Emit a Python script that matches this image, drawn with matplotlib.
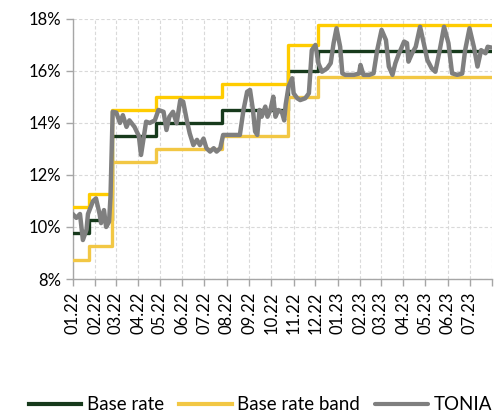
import numpy as np
import pandas as pd
import matplotlib
matplotlib.use('Agg')
from matplotlib import pyplot as plt
from matplotlib.ticker import FuncFormatter

plt.rcParams['font.family'] = ['Lato', 'DejaVu Sans']

# policy rate decisions (rate holds until the next date)
rate_dates = ['2022-01-01', '2022-01-24', '2022-02-24', '2022-04-25',
              '2022-07-25', '2022-10-24', '2022-12-05', '2023-07-31']
base_rate = [9.75, 10.25, 13.5, 14.0, 14.5, 16.0, 16.75, 16.75]
band_upper = [10.75, 11.25, 14.5, 15.0, 15.5, 17.0, 17.75, 17.75]
band_lower = [8.75, 9.25, 12.5, 13.0, 13.5, 15.0, 15.75, 15.75]

# overnight rate
tonia_dates = [
    '2022-01-01', '2022-01-06', '2022-01-11', '2022-01-15', '2022-01-20', '2022-01-22',
    '2022-01-29', '2022-02-02', '2022-02-07', '2022-02-09', '2022-02-13', '2022-02-16',
    '2022-02-20', '2022-02-22', '2022-02-25', '2022-03-02', '2022-03-07', '2022-03-11',
    '2022-03-16', '2022-03-20', '2022-03-27', '2022-04-02', '2022-04-05', '2022-04-09',
    '2022-04-12', '2022-04-17', '2022-04-24', '2022-04-29', '2022-05-06', '2022-05-10',
    '2022-05-14', '2022-05-19', '2022-05-24', '2022-05-29', '2022-06-02', '2022-06-07',
    '2022-06-11', '2022-06-16', '2022-06-21', '2022-06-25', '2022-06-30', '2022-07-04',
    '2022-07-09', '2022-07-14', '2022-07-18', '2022-07-23', '2022-07-27', '2022-08-19',
    '2022-08-24', '2022-08-29', '2022-09-02', '2022-09-06', '2022-09-09', '2022-09-12',
    '2022-09-15', '2022-09-18', '2022-09-23', '2022-09-26', '2022-09-30', '2022-10-04',
    '2022-10-07', '2022-10-11', '2022-10-16', '2022-10-19', '2022-10-21', '2022-10-25',
    '2022-10-30', '2022-11-01', '2022-11-06', '2022-11-10', '2022-11-17', '2022-11-22',
    '2022-11-26', '2022-12-01', '2022-12-05', '2022-12-10', '2022-12-17', '2022-12-22',
    '2022-12-26', '2022-12-30', '2023-01-04', '2023-01-07', '2023-01-11', '2023-01-23',
    '2023-01-30', '2023-02-01', '2023-02-05', '2023-02-13', '2023-02-19', '2023-02-24',
    '2023-03-02', '2023-03-08', '2023-03-12', '2023-03-17', '2023-03-21', '2023-03-26',
    '2023-03-28', '2023-04-02', '2023-04-06', '2023-04-08', '2023-04-13', '2023-04-18',
    '2023-04-24', '2023-04-29', '2023-05-04', '2023-05-10', '2023-05-15', '2023-05-21',
    '2023-05-27', '2023-06-02', '2023-06-07', '2023-06-14', '2023-06-21', '2023-06-25',
    '2023-07-01', '2023-07-07', '2023-07-12', '2023-07-17', '2023-07-23', '2023-07-26',
    '2023-07-31']
tonia = [
    10.5, 10.35, 10.5, 9.5, 9.9, 10.5,
    11.0, 11.1, 10.5, 10.15, 10.65, 10.0,
    10.2, 11.17, 14.43, 14.4, 14.0, 14.3,
    13.85, 14.1, 13.85, 13.5, 12.77, 13.5,
    14.05, 14.0, 14.1, 14.5, 14.43, 13.73,
    14.24, 14.43, 13.99, 14.88, 14.82, 14.1,
    13.6, 13.15, 13.35, 13.15, 13.4, 13.03,
    12.9, 13.03, 12.9, 13.03, 13.54, 13.54,
    14.5, 15.2, 15.27, 14.5, 13.67, 13.54,
    14.5, 14.24, 14.63, 14.24, 14.5, 15.01,
    14.24, 14.5, 14.4, 14.1, 14.7, 15.4,
    15.72, 15.14, 14.95, 14.88, 14.95, 15.14,
    16.8, 17.0, 16.3, 15.97, 16.1, 16.3,
    17.07, 17.64, 16.93, 15.91, 15.85, 15.85,
    15.9, 16.23, 15.85, 15.85, 15.91, 16.8,
    17.58, 17.19, 16.17, 15.85, 16.3, 16.68,
    16.8, 17.13, 17.07, 16.36, 16.68, 16.93,
    17.7, 17.07, 16.42, 16.1, 15.97, 16.8,
    17.7, 17.07, 15.91, 15.85, 15.9, 16.8,
    17.64, 16.93, 16.17, 16.8, 16.68, 16.93,
    16.9]

month_ticks = pd.date_range('2022-01-01', '2023-08-01', freq='MS')
month_labels = [d.strftime('%m.%y') for d in month_ticks[:-1]] + ['']

rd = pd.to_datetime(rate_dates)
td = pd.to_datetime(tonia_dates)

fig = plt.figure(figsize=(4.96, 4.12), dpi=100)
ax = fig.add_axes([0.1466, 0.3228, 0.8454, 0.6312])

ax.step(rd, base_rate, where='post', color='#173a1c', lw=2.4, label='Base rate', zorder=3)
ax.step(rd, band_upper, where='post', color='#ffcc00', lw=2.4, zorder=3)
ax.step(rd, band_lower, where='post', color='#f2c744', lw=2.4, label='Base rate band', zorder=3)
ax.plot(td, tonia, color='#7f7f7f', lw=3.2, label='TONIA', zorder=4,
        solid_joinstyle='round', solid_capstyle='round')

ax.set_xlim(month_ticks[0], month_ticks[-1])
ax.set_ylim(8, 18)
ax.set_yticks(np.arange(8, 19, 2))
ax.yaxis.set_major_formatter(FuncFormatter(lambda v, p: '{:.0f}%'.format(v)))
ax.set_xticks(month_ticks)
ax.set_xticklabels(month_labels, rotation=90)

ax.grid(True, color='#d9d9d9', ls=(0, (3, 2)), lw=0.8)
ax.set_axisbelow(True)
for s in ['top', 'right']:
    ax.spines[s].set_visible(False)
for s in ['left', 'bottom']:
    ax.spines[s].set_color('#a6a6a6')
    ax.spines[s].set_linewidth(1.0)
ax.tick_params(axis='both', colors='#a6a6a6', length=5, width=1.0,
               labelcolor='#000000', labelsize=12)
ax.tick_params(axis='x', pad=4)

handles, labels = ax.get_legend_handles_labels()
leg = fig.legend(handles, labels, loc='center', bbox_to_anchor=(0.525, 0.018),
                 ncol=3, frameon=False, fontsize=13.5, handlelength=2.8,
                 handletextpad=0.3, columnspacing=0.8, borderaxespad=0)
for line in leg.get_lines():
    line.set_linewidth(3.0)

fig.savefig('out.png', dpi=100)
